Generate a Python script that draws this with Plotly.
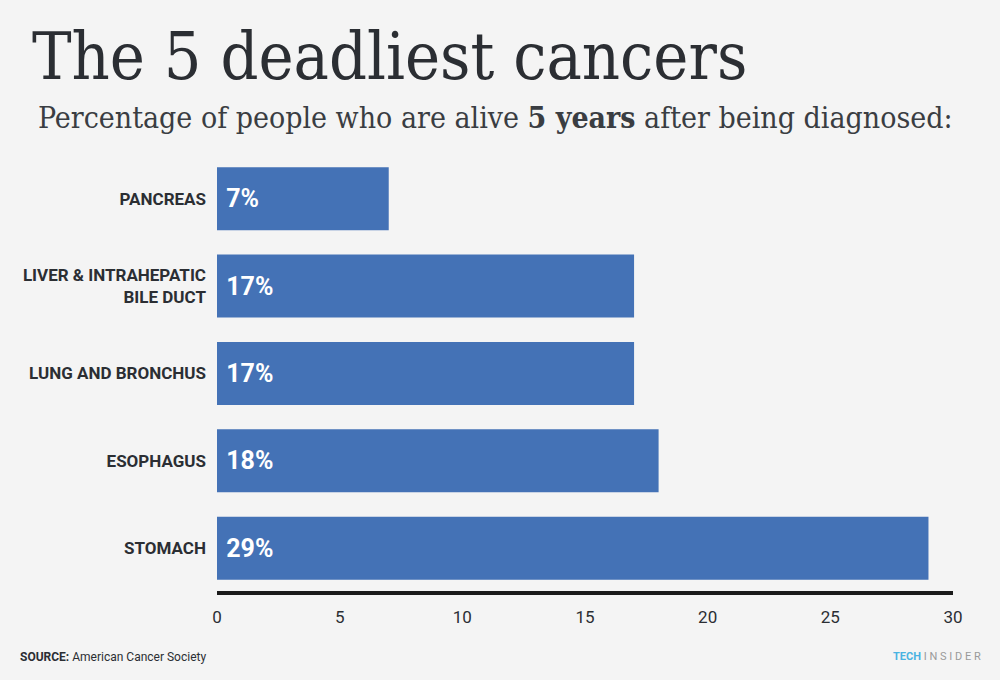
import plotly.graph_objects as go

# data
cancers = ["PANCREAS", "LIVER & INTRAHEPATIC<br>BILE DUCT", "LUNG AND BRONCHUS", "ESOPHAGUS", "STOMACH"]
survival_pct = [7, 17, 17, 18, 29]
x_ticks = [0, 5, 10, 15, 20, 25, 30]

BAR_COLOR = "#4472b6"
BG_COLOR = "#f4f4f4"
TEXT_COLOR = "#2b2e33"
SLAB = "DejaVu Serif Condensed, DejaVu Serif"

fig = go.Figure(
    go.Bar(
        x=survival_pct,
        y=cancers,
        orientation="h",
        marker={"color": BAR_COLOR, "line": {"width": 0}},
        text=[f"\u00a0<b>{v}%</b>" for v in survival_pct],
        textposition="inside",
        insidetextanchor="start",
        textfont={"family": "Roboto", "size": 25, "color": "white"},
    )
)

fig.update_layout(
    width=1000,
    height=680,
    paper_bgcolor=BG_COLOR,
    plot_bgcolor=BG_COLOR,
    margin={"l": 217, "r": 47, "t": 155, "b": 89},
    bargap=0.28,
    showlegend=False,
    font={"family": "Roboto", "color": TEXT_COLOR},
)

fig.update_xaxes(
    range=[0, 30],
    tickvals=x_ticks,
    ticktext=[str(t) for t in x_ticks],
    showgrid=False,
    zeroline=False,
    showline=True,
    linecolor="#1a1a1a",
    linewidth=4,
    ticks="",
    ticklabelstandoff=8,
    tickfont={"family": "Roboto", "size": 17, "color": TEXT_COLOR},
)

fig.update_yaxes(
    range=[4.49, -0.5],
    showgrid=False,
    zeroline=False,
    showline=False,
    ticks="",
    ticklabelstandoff=10,
    tickfont={"family": "Roboto", "size": 17, "color": TEXT_COLOR, "weight": "bold"},
)

# title and subtitle
fig.add_annotation(
    text="The 5 deadliest cancers",
    xref="paper", yref="paper", x=-0.254, y=1.225,
    xanchor="left", yanchor="middle", showarrow=False,
    font={"family": SLAB, "size": 66, "color": TEXT_COLOR},
)
fig.add_annotation(
    text="Percentage of people who are alive <b>5 years</b> after being diagnosed:",
    xref="paper", yref="paper", x=-0.246, y=1.087,
    xanchor="left", yanchor="middle", showarrow=False,
    font={"family": SLAB, "size": 30, "color": "#3a3d42"},
)

# source and brand
fig.add_annotation(
    text="<b>SOURCE:</b> American Cancer Society",
    xref="paper", yref="paper", x=-0.270, y=-0.151,
    xanchor="left", yanchor="middle", showarrow=False,
    font={"family": "Roboto", "size": 12, "color": TEXT_COLOR},
)
fig.add_annotation(
    text="<span style='color:#4ab3e2'><b>TECH</b></span> I N S I D E R",
    xref="paper", yref="paper", x=1.041, y=-0.151,
    xanchor="right", yanchor="middle", showarrow=False,
    font={"family": "Roboto", "size": 11, "color": "#9a9a9a"},
)

fig.write_html(
    "out.html",
    config={"displayModeBar": False},
    post_script="document.body.style.margin='0';",
)
